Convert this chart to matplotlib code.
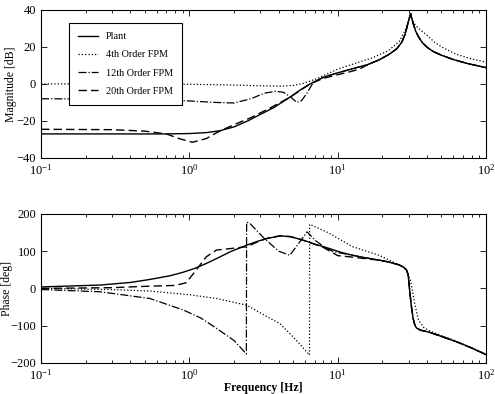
import matplotlib
matplotlib.use("Agg")
import matplotlib.pyplot as plt
import numpy as np

plt.rcParams['font.family'] = ['Liberation Serif', 'DejaVu Serif']
plt.rcParams['mathtext.fontset'] = 'stix'
plt.rcParams['xtick.direction'] = 'in'
plt.rcParams['ytick.direction'] = 'in'

labels = ["Plant", "4th Order FPM", "12th Order FPM", "20th Order FPM"]

# ---- magnitude [dB] ----
f_plant_mag = [0.1, 0.3, 0.7, 1.0, 1.3, 1.6, 2.0, 2.5, 3.0, 3.7, 4.8, 5.6, 6.5, 8, 10, 13, 16, 19, 22, 25, 27, 28.5, 30, 31, 32, 33.5, 35, 37, 40, 44, 50, 60, 75, 100]
plant_mag = [-27, -27, -27, -26.8, -26.3, -25.3, -23.2, -19.8, -16.5, -12.8, -7, -3.2, 0, 3.6, 6, 8.5, 10.5, 13, 15.8, 19, 22.5, 27, 34, 38, 33.5, 28.5, 25.5, 22.5, 19.8, 17.5, 15.5, 13.2, 11, 8.8]

f_fpm4_mag = [0.1, 0.5, 1, 2, 3, 4.2, 5.0, 5.8, 6.5, 7.3, 8, 9, 10, 13, 17, 22, 26, 28.5, 30, 31, 32.5, 35, 39, 45, 50, 63, 80, 100]
fpm4_mag = [0, 0, -0.2, -0.6, -1, -1.2, -0.8, 0.2, 1.5, 3, 4.5, 6.3, 8, 11, 14, 18, 23, 29, 34, 36.5, 33, 30, 27, 22.5, 20, 16, 13.5, 11.7]

f_fpm12_mag = [0.1, 0.3, 0.6, 1.0, 1.5, 2.0, 2.6, 3.2, 3.8, 4.3, 4.8, 5.3, 5.7, 6.2, 6.8,
               8, 10, 13, 16, 19, 22, 25, 27, 28.5, 30, 31, 32, 33.5, 35, 37, 40, 44, 50, 60, 75, 100]
fpm12_mag = [-8, -8.2, -8.6, -9.2, -10, -10.3, -8, -5, -4, -4.5, -7, -10, -9, -5, 0.5,
             3.6, 6, 8.5, 10.5, 13, 15.8, 19, 22.5, 27, 34, 38, 33.5, 28.5, 25.5, 22.5, 19.8, 17.5, 15.5, 13.2, 11, 8.8]

f_fpm20_mag = [0.1, 0.3, 0.5, 0.7, 0.85, 1.05, 1.3, 1.57, 2.0, 2.55, 3.5, 4.8, 6.5, 8, 10, 12, 14, 16,
               19, 22, 25, 27, 28.5, 30, 31, 32, 33.5, 35, 37, 40, 44, 50, 60, 75, 100]
fpm20_mag = [-24.5, -24.7, -25.5, -27, -29.5, -31.5, -29.5, -25.8, -22, -18.5, -13, -7, 0, 3, 5, 6.5, 8, 10.5,
             13, 15.8, 19, 22.5, 27, 34, 38, 33.5, 28.5, 25.5, 22.5, 19.8, 17.5, 15.5, 13.2, 11, 8.8]

# ---- phase [deg] ----
f_plant_ph = [0.1, 0.25, 0.4, 0.54, 0.74, 0.9, 1.09, 1.3, 1.52, 1.9, 2.43, 2.9, 3.33, 4.1, 4.8, 5.8, 7, 8.8, 10.5, 12.6, 15, 19, 22, 25.5, 27, 28, 29, 29.8, 30.6, 31.4, 32.2, 33, 33.9, 36, 41.7, 50, 63, 80, 100]
plant_ph = [4, 9, 16, 24, 34, 43, 54, 67, 80, 99, 116, 127, 134, 141, 139, 130, 119, 107, 97, 89, 83, 76, 71, 64, 60, 56, 50, 38, -9, -50, -80, -97, -106, -112, -118, -129, -143, -160, -178]

f_fpm4_ph = [0.1, 0.3, 0.54, 1.0, 1.52, 2.43, 3.48, 4.06, 4.74, 5.5, 6.45, 6.46, 8.4, 12.6, 19, 26,
             29, 31, 33, 35, 38, 42, 63, 100]
fpm4_ph = [0, -3, -7, -17, -27, -45, -80, -94, -121, -148, -179, 172, 152, 112, 89, 63,
           50, 20, -40, -85, -105, -115, -142, -177]

f_fpm12_ph = [0.1, 0.25, 0.54, 0.91, 1.2, 1.52, 2.0, 2.42, 2.43, 2.55, 3.2, 4.0, 4.75, 5.55, 6.2, 7.1, 8.4,
              9.5, 12.6, 15, 19, 22, 25.5, 27, 28, 29, 29.8, 30.6, 31.4, 32.2, 33, 33.9, 36, 41.7, 50, 63, 80, 100]
fpm12_ph = [-3, -9, -27, -58, -80, -107, -140, -176, 178, 175, 134, 100, 89, 125, 152, 128, 107,
            98, 89, 83, 76, 71, 64, 60, 56, 50, 38, -9, -50, -80, -97, -106, -112, -118, -129, -143, -160, -178]

f_fpm20_ph = [0.1, 0.3, 0.54, 0.8, 0.95, 1.09, 1.3, 1.52, 2.0, 2.43, 3.0, 3.5, 4.1, 4.8, 5.8, 8, 10, 12.6, 16,
              19, 22, 25.5, 27, 28, 29, 29.8, 30.6, 31.4, 32.2, 33, 33.9, 36, 41.7, 50, 63, 80, 100]
fpm20_ph = [0, 2, 6, 8, 15, 45, 85, 103, 108, 112, 128, 137, 141, 139, 130, 110, 88, 84, 79,
            76, 71, 64, 60, 56, 50, 38, -9, -50, -80, -97, -106, -112, -118, -129, -143, -160, -178]

styles = [dict(ls='-', lw=1.0),
          dict(ls=':', lw=0.9),
          dict(ls='-.', lw=0.9),
          dict(ls=(0, (6, 3)), lw=1.0)]

fig = plt.figure(figsize=(4.95, 3.94), dpi=100)
ax1 = fig.add_axes([0.083, 0.599, 0.899, 0.376])
ax2 = fig.add_axes([0.083, 0.079, 0.899, 0.378])

mags = [(f_plant_mag, plant_mag), (f_fpm4_mag, fpm4_mag), (f_fpm12_mag, fpm12_mag), (f_fpm20_mag, fpm20_mag)]
phs = [(f_plant_ph, plant_ph), (f_fpm4_ph, fpm4_ph), (f_fpm12_ph, fpm12_ph), (f_fpm20_ph, fpm20_ph)]

lines = []
for (f, m), st, lab in zip(mags, styles, labels):
	l, = ax1.semilogx(f, m, color='black', label=lab, **st)
	lines.append(l)
for (f, p), st in zip(phs, styles):
	ax2.semilogx(f, p, color='black', **st)

for ax in (ax1, ax2):
	ax.set_xlim(0.1, 100)
	ax.tick_params(which='both', top=True, right=True, labelsize=9, width=0.6)
	ax.tick_params(which='major', length=4)
	ax.tick_params(which='minor', length=2)
	for s in ax.spines.values():
		s.set_linewidth(0.8)

ax1.set_ylim(-40, 40)
ax1.set_yticks([-40, -20, 0, 20, 40])
ax1.set_ylabel("Magnitude [dB]", fontsize=8.5, labelpad=0)
ax2.set_ylim(-200, 200)
ax2.set_yticks([-200, -100, 0, 100, 200])
ax2.set_ylabel("Phase [deg]", fontsize=8.5, labelpad=-2)
ax2.set_xlabel("Frequency [Hz]", fontsize=8.5, fontweight='bold', labelpad=0)

leg = ax1.legend(lines, labels, loc='upper left', bbox_to_anchor=(0.063, 0.912),
				 fontsize=7.3, fancybox=False, framealpha=1, edgecolor='black',
				 handlelength=1.9, borderpad=0.9, labelspacing=0.9, handletextpad=0.8,
				 borderaxespad=0)
leg.get_frame().set_linewidth(0.8)

plt.savefig("out.png", dpi=100)
